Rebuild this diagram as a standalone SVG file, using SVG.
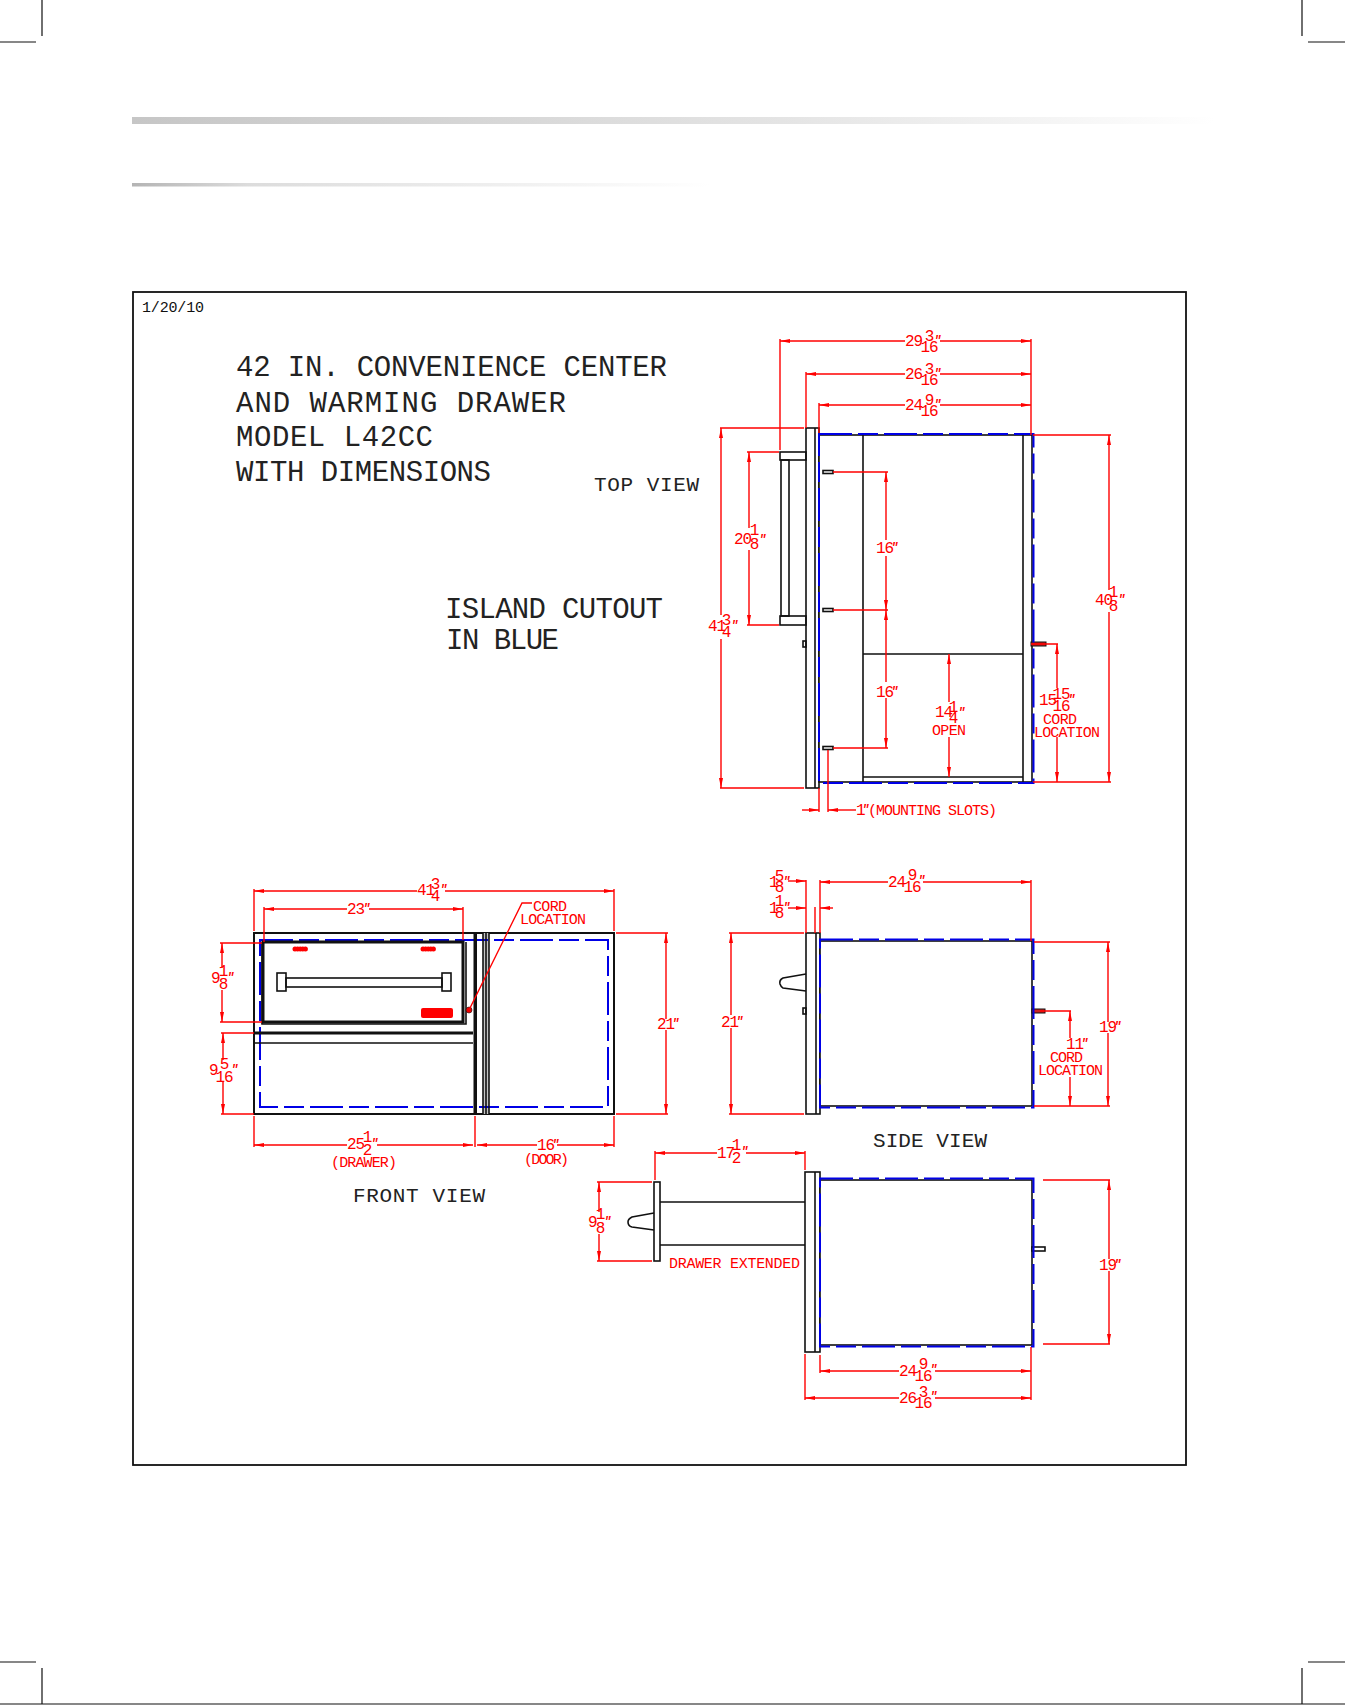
<svg xmlns="http://www.w3.org/2000/svg" width="1345" height="1705" viewBox="0 0 1345 1705">
<style>
text{font-family:"Liberation Mono","DejaVu Sans Mono",monospace}
.t{font-size:29px;fill:#222}
.v{font-size:21px;fill:#222}
.d{font-size:16px;fill:#f00;letter-spacing:-1.2px}
.n{font-size:16px;fill:#f00;text-anchor:middle;letter-spacing:-1.2px}
.l{font-size:15px;fill:#f00}
.m{font-size:12px;fill:#f00;font-style:italic;font-weight:bold}
.date{font-size:15px;fill:#111}
.k{fill:none;stroke:#111;stroke-width:1.6}
.k2{fill:none;stroke:#111;stroke-width:3}
.g{fill:#fff;stroke:#111;stroke-width:1.6}
.b{fill:none;stroke:#0000e6;stroke-width:2;stroke-dasharray:33 6 20 6}
.r{fill:none;stroke:#f00;stroke-width:1.4}
.kn{fill:none;stroke:#f00;stroke-width:5;stroke-linecap:round;stroke-dasharray:0 2.6}
.crop{stroke:#111;stroke-width:1.2;fill:none}
</style>
<defs>
<linearGradient id="g1"><stop offset="0" stop-color="#c6c6c6"/><stop offset="0.6" stop-color="#e4e4e4"/><stop offset="1" stop-color="#fff"/></linearGradient>
<linearGradient id="g2"><stop offset="0" stop-color="#b4b4b4"/><stop offset="0.2" stop-color="#dcdcdc"/><stop offset="1" stop-color="#fff"/></linearGradient>
<marker id="a" viewBox="0 0 10 4" refX="10" refY="2" markerWidth="10" markerHeight="4" markerUnits="userSpaceOnUse" orient="auto-start-reverse"><path d="M0 0L10 2L0 4Z" fill="#f00"/></marker>
</defs>
<rect width="1345" height="1705" fill="#fff"/>
<g id="page">
<path class="crop" d="M42 0V36M0 42H36M1302 0V36M1308 42H1345M42 1668V1704M0 1662H36M1302 1668V1704M1308 1662H1345M0 1704H1345"/>
<rect x="132" y="117" width="1083" height="7" fill="url(#g1)"/>
<rect x="132" y="183" width="578" height="3.5" fill="url(#g2)"/>
<rect x="133" y="292" width="1053" height="1173" fill="none" stroke="#111" stroke-width="1.8"/>
<text class="date" x="142" y="312" textLength="62">1/20/10</text>
</g>
<g id="title">
<text class="t" x="236" y="376" textLength="431">42 IN. CONVENIENCE CENTER</text>
<text class="t" x="236" y="412" textLength="330">AND WARMING DRAWER</text>
<text class="t" x="236" y="446" textLength="197">MODEL L42CC</text>
<text class="t" x="236" y="481" textLength="255">WITH DIMENSIONS</text>
<text class="t" x="445" y="618" textLength="218">ISLAND CUTOUT</text>
<text class="t" x="446" y="649" textLength="113">IN BLUE</text>
</g>
<g id="top-view">
<text class="v" x="594" y="491" textLength="105">TOP VIEW</text>
<rect class="g" x="806" y="428" width="13" height="360"/>
<path class="k" d="M815 428V788"/>
<rect class="g" x="819" y="435" width="213" height="347"/>
<path class="k" d="M863 435V782M1023 435V782M863 654H1023M863 777H1023"/>
<rect class="k" x="780" y="452" width="26" height="8"/>
<rect class="k" x="780" y="616" width="26" height="9"/>
<rect class="k" x="781" y="460" width="8" height="156"/>
<rect class="k" x="803" y="641" width="3" height="6"/>
<rect class="g" x="823" y="470.500" width="10" height="3"/>
<rect class="g" x="823" y="608.500" width="10" height="3"/>
<rect class="g" x="823" y="746.500" width="10" height="3"/>
<rect x="1031" y="642" width="15" height="4" fill="#c22" stroke="#111"/>
<rect class="b" x="819" y="434" width="214.500" height="349"/>
</g>
<g id="front-view">
<rect x="254" y="933" width="360" height="181" fill="#fff" stroke="#111" stroke-width="2"/>
<rect x="483" y="933" width="6" height="181" fill="#c4c4c4"/>
<rect class="b" x="260" y="940" width="348" height="167"/>
<rect x="473.500" y="933" width="3.500" height="181" fill="#111"/>
<path class="k" d="M483 933V1114M486 933V1114M489 933V1114"/>
<path class="k2" d="M254 1033H473"/>
<path class="k" d="M254 1043H473M262 942V1024H466V942"/>
<rect class="k2" x="263" y="942" width="200" height="80"/>
<rect class="k" x="286" y="978" width="156" height="9"/>
<rect class="k" x="277" y="973" width="9" height="18"/>
<rect class="k" x="442" y="973" width="9" height="18"/>
<path class="kn" d="M295 949H306"/>
<path class="kn" d="M423 949H434"/>
<rect x="421" y="1008" width="32" height="10" rx="2" fill="#f00"/>
<circle cx="469" cy="1010" r="3" fill="#e00" stroke="#111" stroke-width="0.6"/>
<text class="v" x="353" y="1202" textLength="132">FRONT VIEW</text>
</g>
<g id="side-view">
<rect class="g" x="806" y="933" width="14" height="181"/>
<path class="k" d="M816 933V1114"/>
<rect class="g" x="820" y="941" width="212" height="165"/>
<path class="k" d="M806 974L783 978Q779 980 780 984Q781 987 783 988L806 991"/>
<rect class="k" x="803" y="1008" width="3" height="6"/>
<rect x="1032" y="1009" width="13" height="4" fill="#c22" stroke="#111"/>
<rect class="b" x="820" y="939.500" width="213.500" height="168"/>
<text class="v" x="873" y="1147" textLength="114">SIDE VIEW</text>
</g>
<g id="extended-view">
<rect class="g" x="805" y="1172" width="15" height="180"/>
<path class="k" d="M815 1172V1352"/>
<rect class="g" x="820" y="1180" width="212" height="165"/>
<rect class="g" x="654" y="1182" width="6" height="79"/>
<path class="k" d="M660 1202H805M660 1245H805M654 1213L632 1217Q628 1219 628 1222Q628 1226 632 1227L654 1230"/>
<rect class="g" x="1032" y="1247" width="13" height="4"/>
<rect class="b" x="820" y="1178.500" width="213.500" height="168"/>
</g>
<g id="connectors">
<!-- top view -->
<path class="r" d="M780 339V450M806 372V428M819 403V433M1031 339V435"/>
<path class="r" marker-start="url(#a)" d="M780 341H905"/><path class="r" marker-end="url(#a)" d="M940 341H1031"/>
<path class="r" marker-start="url(#a)" d="M806 374H905"/><path class="r" marker-end="url(#a)" d="M940 374H1031"/>
<path class="r" marker-start="url(#a)" d="M819 405H905"/><path class="r" marker-end="url(#a)" d="M940 405H1031"/>
<path class="r" d="M720 428H804M720 788H804M1033 435H1111M1033 782H1111M747 452H779M747 625H779M833 472H888M833 610H888M833 748H888M1031 644H1058M819 788V812M828 750V812"/>
<path class="r" marker-start="url(#a)" d="M721 428V615"/><path class="r" marker-end="url(#a)" d="M721 639V788"/>
<path class="r" marker-start="url(#a)" d="M749 452V528"/><path class="r" marker-end="url(#a)" d="M749 550V625"/>
<path class="r" marker-start="url(#a)" d="M1109 435V590"/><path class="r" marker-end="url(#a)" d="M1109 612V782"/>
<path class="r" marker-start="url(#a)" d="M886 472V540"/><path class="r" marker-end="url(#a)" d="M886 556V610"/>
<path class="r" marker-start="url(#a)" d="M886 610V682"/><path class="r" marker-end="url(#a)" d="M886 698V748"/>
<path class="r" marker-start="url(#a)" d="M949 654V702"/><path class="r" marker-end="url(#a)" d="M949 737V777"/>
<path class="r" marker-start="url(#a)" d="M1057 644V688"/><path class="r" marker-end="url(#a)" d="M1057 737V782"/>
<path class="r" marker-end="url(#a)" d="M802 810H819"/><path class="r" marker-start="url(#a)" d="M828 810H856"/>
<!-- front view -->
<path class="r" d="M254 889V931M614 889V931M264 907V942M463 907V940M220 943H262M220 1022H262M221 1033H254M221 1114H254M616 933H668M616 1114H668M254 1116V1147M475 1116V1147M614 1116V1147"/>
<path class="r" marker-start="url(#a)" d="M254 891H417"/><path class="r" marker-end="url(#a)" d="M445 891H614"/>
<path class="r" marker-start="url(#a)" d="M264 909H347"/><path class="r" marker-end="url(#a)" d="M369 909H463"/>
<path class="r" marker-start="url(#a)" d="M222 943V968"/><path class="r" marker-end="url(#a)" d="M222 990V1022"/>
<path class="r" marker-start="url(#a)" d="M223 1033V1060"/><path class="r" marker-end="url(#a)" d="M223 1082V1114"/>
<path class="r" marker-start="url(#a)" d="M666 933V1019"/><path class="r" marker-end="url(#a)" d="M666 1030V1114"/>
<path class="r" marker-start="url(#a)" d="M254 1145H347"/><path class="r" marker-end="url(#a)" d="M377 1145H473"/>
<path class="r" marker-start="url(#a)" d="M477 1145H537"/><path class="r" marker-end="url(#a)" d="M557 1145H614"/>
<path class="r" d="M469 1010L522 903H532"/>
<!-- side view -->
<path class="r" d="M806 880V933M820 880V933M815 907V933M1031 880V941M729 933H804M729 1114H804M1034 942H1110M1034 1106H1110M1040 1011H1071"/>
<path class="r" marker-start="url(#a)" d="M820 882H888"/><path class="r" marker-end="url(#a)" d="M923 882H1031"/>
<path class="r" marker-end="url(#a)" d="M788 881H806"/><path class="r" marker-end="url(#a)" d="M788 908H806"/><path class="r" marker-end="url(#a)" d="M833 908H820"/>
<path class="r" marker-start="url(#a)" d="M731 933V1015"/><path class="r" marker-end="url(#a)" d="M731 1028V1114"/>
<path class="r" marker-start="url(#a)" d="M1108 942V1022"/><path class="r" marker-end="url(#a)" d="M1108 1033V1106"/>
<path class="r" marker-start="url(#a)" d="M1070 1011V1038"/><path class="r" marker-end="url(#a)" d="M1070 1077V1106"/>
<!-- extended view -->
<path class="r" d="M655 1151V1180M805 1151V1170M597 1182H652M597 1261H652M1043 1180H1110M1043 1344H1110M820 1355V1373M1031 1347V1400M805 1354V1400"/>
<path class="r" marker-start="url(#a)" d="M655 1153H717"/><path class="r" marker-end="url(#a)" d="M746 1153H805"/>
<path class="r" marker-start="url(#a)" d="M599 1182V1212"/><path class="r" marker-end="url(#a)" d="M599 1234V1261"/>
<path class="r" marker-start="url(#a)" d="M1109 1180V1259"/><path class="r" marker-end="url(#a)" d="M1109 1271V1344"/>
<path class="r" marker-start="url(#a)" d="M820 1371H899"/><path class="r" marker-end="url(#a)" d="M935 1371H1031"/>
<path class="r" marker-start="url(#a)" d="M805 1398H899"/><path class="r" marker-end="url(#a)" d="M935 1398H1031"/>
</g>
<g id="dimension-labels">
<!-- top -->
<text class="d" x="905" y="346">29</text><text class="n" x="929" y="341">3</text><text class="n" x="929" y="352">16</text><text class="m" x="934" y="344">"</text>
<text class="d" x="905" y="379">26</text><text class="n" x="929" y="374">3</text><text class="n" x="929" y="385">16</text><text class="m" x="934" y="377">"</text>
<text class="d" x="905" y="410">24</text><text class="n" x="929" y="405">9</text><text class="n" x="929" y="416">16</text><text class="m" x="934" y="408">"</text>
<text class="d" x="708" y="631">41</text><text class="n" x="726" y="625">3</text><text class="n" x="726" y="637">4</text><text class="m" x="731" y="629">"</text>
<text class="d" x="734" y="544">20</text><text class="n" x="754" y="535">1</text><text class="n" x="754" y="549">8</text><text class="m" x="759" y="543">"</text>
<text class="d" x="876" y="553">16</text><text class="m" x="891" y="551">"</text>
<text class="d" x="876" y="697">16</text><text class="m" x="891" y="695">"</text>
<text class="d" x="935" y="717">14</text><text class="n" x="953" y="712">1</text><text class="n" x="953" y="723">4</text><text class="m" x="958" y="716">"</text>
<text class="l" x="932" y="735" textLength="34">OPEN</text>
<text class="d" x="1039" y="705">15</text><text class="n" x="1061" y="699">15</text><text class="n" x="1061" y="711">16</text><text class="m" x="1068" y="703">"</text>
<text class="l" x="1043" y="724" textLength="34">CORD</text>
<text class="l" x="1034" y="737" textLength="66">LOCATION</text>
<text class="d" x="1095" y="605">40</text><text class="n" x="1113" y="597">1</text><text class="n" x="1113" y="611">8</text><text class="m" x="1118" y="603">"</text>
<text class="d" x="856" y="815">1</text><text class="m" x="862" y="813">"</text>
<text class="l" x="868" y="815" textLength="129">(MOUNTING SLOTS)</text>
<!-- front -->
<text class="d" x="417" y="895">41</text><text class="n" x="435" y="889">3</text><text class="n" x="435" y="901">4</text><text class="m" x="440" y="893">"</text>
<text class="d" x="347" y="914">23</text><text class="m" x="363" y="912">"</text>
<text class="l" x="533" y="911" textLength="34">CORD</text>
<text class="l" x="520" y="924" textLength="66">LOCATION</text>
<text class="d" x="211" y="983">9</text><text class="n" x="223" y="976">1</text><text class="n" x="223" y="989">8</text><text class="m" x="227" y="981">"</text>
<text class="d" x="209" y="1075">9</text><text class="n" x="224" y="1069">5</text><text class="n" x="224" y="1082">16</text><text class="m" x="231" y="1073">"</text>
<text class="d" x="657" y="1029">21</text><text class="m" x="672" y="1027">"</text>
<text class="d" x="347" y="1149">25</text><text class="n" x="367" y="1142">1</text><text class="n" x="367" y="1155">2</text><text class="m" x="371" y="1147">"</text>
<text class="l" x="331" y="1167" textLength="66">(DRAWER)</text>
<text class="d" x="537" y="1150">16</text><text class="m" x="552" y="1148">"</text>
<text class="l" x="524" y="1164" textLength="45">(DOOR)</text>
<!-- side -->
<text class="d" x="888" y="887">24</text><text class="n" x="912" y="880">9</text><text class="n" x="912" y="892">16</text><text class="m" x="918" y="884">"</text>
<text class="d" x="769" y="887">1</text><text class="n" x="779" y="881">5</text><text class="n" x="779" y="892">8</text><text class="m" x="783" y="885">"</text>
<text class="d" x="769" y="913">1</text><text class="n" x="779" y="906">1</text><text class="n" x="779" y="918">8</text><text class="m" x="783" y="911">"</text>
<text class="d" x="721" y="1027">21</text><text class="m" x="736" y="1025">"</text>
<text class="d" x="1099" y="1032">19</text><text class="m" x="1114" y="1030">"</text>
<text class="d" x="1066" y="1049">11</text><text class="m" x="1081" y="1047">"</text>
<text class="l" x="1050" y="1062" textLength="33">CORD</text>
<text class="l" x="1038" y="1075" textLength="65">LOCATION</text>
<!-- extended -->
<text class="d" x="717" y="1158">17</text><text class="n" x="736" y="1150">1</text><text class="n" x="736" y="1163">2</text><text class="m" x="741" y="1155">"</text>
<text class="d" x="588" y="1227">9</text><text class="n" x="600" y="1219">1</text><text class="n" x="600" y="1233">8</text><text class="m" x="604" y="1225">"</text>
<text class="l" x="669" y="1268" textLength="131">DRAWER EXTENDED</text>
<text class="d" x="1099" y="1270">19</text><text class="m" x="1114" y="1268">"</text>
<text class="d" x="899" y="1376">24</text><text class="n" x="923" y="1369">9</text><text class="n" x="923" y="1381">16</text><text class="m" x="930" y="1373">"</text>
<text class="d" x="899" y="1403">26</text><text class="n" x="923" y="1397">3</text><text class="n" x="923" y="1408">16</text><text class="m" x="930" y="1400">"</text>
</g>
</svg>
